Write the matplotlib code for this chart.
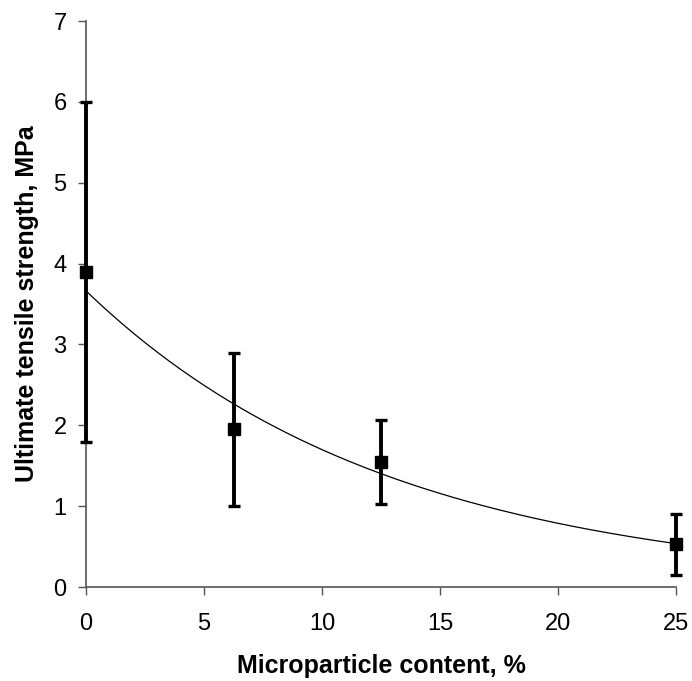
import numpy as np
import matplotlib
matplotlib.use("Agg")
from matplotlib import pyplot as plt

plt.rcParams["font.family"] = ["Liberation Sans", "DejaVu Sans"]

content = [0, 6.25, 12.5, 25]
strength = [3.9, 1.95, 1.55, 0.53]
err_low = [1.8, 1.0, 1.03, 0.15]
err_high = [6.0, 2.89, 2.06, 0.90]

xticks = [0, 5, 10, 15, 20, 25]
yticks = [0, 1, 2, 3, 4, 5, 6, 7]

fig = plt.figure(figsize=(6.92, 6.81), dpi=100)
ax = fig.add_axes([0.1243, 0.138, 0.8527, 0.831])

x = np.array(content)
y = np.array(strength)
yerr = [y - np.array(err_low), np.array(err_high) - y]

# exponential trendline, fitted the way a spreadsheet does it
b, ln_a = np.polyfit(x, np.log(y), 1)
xs = np.linspace(0, 25, 200)
ax.plot(xs, np.exp(ln_a) * np.exp(b * xs), color="black", linewidth=0.9, zorder=2)

ax.errorbar(x, y, yerr=yerr, fmt="s", color="black", markersize=8,
            elinewidth=2.8, capsize=4, capthick=2.4, zorder=3, clip_on=False)

ax.set_xlim(0, 25)
ax.set_ylim(0, 7)
ax.set_xticks(xticks)
ax.set_yticks(yticks)
ax.tick_params(direction="out", length=5.5, width=1, color="#555555",
               labelsize=17)
ax.tick_params(axis="x", pad=13)
ax.tick_params(axis="y", pad=8.5)

for side in ("top", "right"):
    ax.spines[side].set_visible(False)
for side in ("left", "bottom"):
    ax.spines[side].set_color("#555555")
    ax.spines[side].set_linewidth(1.2)

ax.set_xlabel("Microparticle content, %", fontsize=18, fontweight="bold", labelpad=14)
ax.set_ylabel("Ultimate tensile strength, MPa", fontsize=18, fontweight="bold", labelpad=10)

fig.savefig("out.png", dpi=100)
